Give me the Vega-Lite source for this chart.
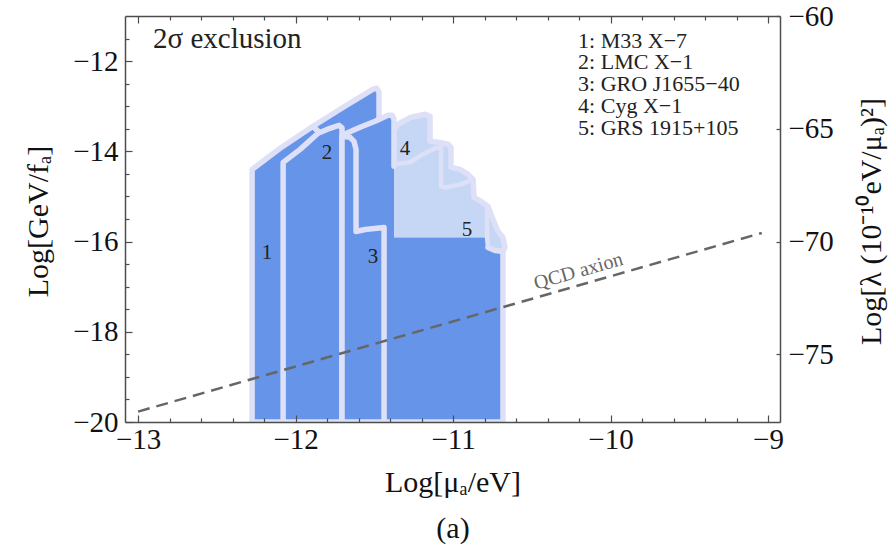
{
  "$schema": "https://vega.github.io/schema/vega-lite/v6.json",
  "width": 655,
  "height": 406,
  "autosize": {"type": "none"},
  "padding": {"left": 125, "top": 16, "right": 115, "bottom": 123},
  "background": "white",
  "config": {"view": {"stroke": null}, "font": "Liberation Serif"},
  "datasets": {
    "poly": [
      {"id": "D1", "k": 1, "x": -12.276, "y": -20},
      {"id": "D1", "k": 2, "x": -12.276, "y": -14.4},
      {"id": "D1", "k": 3, "x": -12.098, "y": -13.933},
      {"id": "D1", "k": 4, "x": -11.889, "y": -13.444},
      {"id": "D1", "k": 5, "x": -11.851, "y": -13.578},
      {"id": "D1", "k": 6, "x": -11.851, "y": -20},
      {"id": "D1", "k": 7, "x": -12.276, "y": -20},

      {"id": "D1b", "k": 1, "x": -11.889, "y": -13.444},
      {"id": "D1b", "k": 2, "x": -11.717, "y": -13.067},
      {"id": "D1b", "k": 3, "x": -11.508, "y": -12.622},
      {"id": "D1b", "k": 4, "x": -11.485, "y": -12.6},
      {"id": "D1b", "k": 5, "x": -11.47, "y": -12.689},
      {"id": "D1b", "k": 6, "x": -11.47, "y": -20},
      {"id": "D1b", "k": 7, "x": -11.851, "y": -20},
      {"id": "D1b", "k": 8, "x": -11.851, "y": -13.578},
      {"id": "D1b", "k": 9, "x": -11.889, "y": -13.444},

      {"id": "R2", "k": 1, "x": -12.079, "y": -20},
      {"id": "R2", "k": 2, "x": -12.079, "y": -14.244},
      {"id": "R2", "k": 3, "x": -11.971, "y": -13.956},
      {"id": "R2", "k": 4, "x": -11.857, "y": -13.6},
      {"id": "R2", "k": 5, "x": -11.781, "y": -13.489},
      {"id": "R2", "k": 6, "x": -11.724, "y": -13.422},
      {"id": "R2", "k": 7, "x": -11.705, "y": -13.48},
      {"id": "R2", "k": 8, "x": -11.705, "y": -20},
      {"id": "R2", "k": 9, "x": -12.079, "y": -20},

      {"id": "LF", "k": 1, "x": -11.375, "y": -15.911},
      {"id": "LF", "k": 2, "x": -11.375, "y": -13.511},
      {"id": "LF", "k": 3, "x": -11.349, "y": -13.4},
      {"id": "LF", "k": 4, "x": -11.267, "y": -13.244},
      {"id": "LF", "k": 5, "x": -11.178, "y": -13.178},
      {"id": "LF", "k": 6, "x": -11.146, "y": -13.222},
      {"id": "LF", "k": 7, "x": -11.146, "y": -13.778},
      {"id": "LF", "k": 8, "x": -11.095, "y": -13.8},
      {"id": "LF", "k": 9, "x": -11.032, "y": -13.844},
      {"id": "LF", "k": 10, "x": -11.013, "y": -13.911},
      {"id": "LF", "k": 11, "x": -11.013, "y": -14.356},
      {"id": "LF", "k": 12, "x": -10.956, "y": -14.4},
      {"id": "LF", "k": 13, "x": -10.905, "y": -14.511},
      {"id": "LF", "k": 14, "x": -10.873, "y": -14.622},
      {"id": "LF", "k": 15, "x": -10.867, "y": -15.022},
      {"id": "LF", "k": 16, "x": -10.822, "y": -15.111},
      {"id": "LF", "k": 17, "x": -10.778, "y": -15.222},
      {"id": "LF", "k": 18, "x": -10.759, "y": -15.4},
      {"id": "LF", "k": 19, "x": -10.714, "y": -15.778},
      {"id": "LF", "k": 20, "x": -10.683, "y": -15.911},
      {"id": "LF", "k": 21, "x": -10.67, "y": -16.133},
      {"id": "LF", "k": 22, "x": -10.683, "y": -16.222},
      {"id": "LF", "k": 23, "x": -10.733, "y": -16.2},
      {"id": "LF", "k": 24, "x": -10.778, "y": -16.133},
      {"id": "LF", "k": 25, "x": -10.784, "y": -15.911},
      {"id": "LF", "k": 26, "x": -11.375, "y": -15.911},

      {"id": "LO", "k": 1, "x": -11.375, "y": -13.511},
      {"id": "LO", "k": 2, "x": -11.349, "y": -13.4},
      {"id": "LO", "k": 3, "x": -11.267, "y": -13.244},
      {"id": "LO", "k": 4, "x": -11.178, "y": -13.178},
      {"id": "LO", "k": 5, "x": -11.146, "y": -13.222},
      {"id": "LO", "k": 6, "x": -11.146, "y": -13.778},
      {"id": "LO", "k": 7, "x": -11.095, "y": -13.8},
      {"id": "LO", "k": 8, "x": -11.032, "y": -13.844},
      {"id": "LO", "k": 9, "x": -11.013, "y": -13.911},
      {"id": "LO", "k": 10, "x": -11.013, "y": -14.356},
      {"id": "LO", "k": 11, "x": -10.956, "y": -14.4},
      {"id": "LO", "k": 12, "x": -10.905, "y": -14.511},
      {"id": "LO", "k": 13, "x": -10.873, "y": -14.622},
      {"id": "LO", "k": 14, "x": -10.867, "y": -15.022},
      {"id": "LO", "k": 15, "x": -10.822, "y": -15.111},
      {"id": "LO", "k": 16, "x": -10.778, "y": -15.222},
      {"id": "LO", "k": 17, "x": -10.759, "y": -15.4},
      {"id": "LO", "k": 18, "x": -10.714, "y": -15.778},
      {"id": "LO", "k": 19, "x": -10.683, "y": -15.911},
      {"id": "LO", "k": 20, "x": -10.67, "y": -16.133},
      {"id": "LO", "k": 21, "x": -10.683, "y": -16.222},

      {"id": "BF", "k": 1, "x": -11.705, "y": -20},
      {"id": "BF", "k": 2, "x": -11.705, "y": -13.644},
      {"id": "BF", "k": 3, "x": -11.59, "y": -13.467},
      {"id": "BF", "k": 4, "x": -11.495, "y": -13.333},
      {"id": "BF", "k": 5, "x": -11.413, "y": -13.2},
      {"id": "BF", "k": 6, "x": -11.387, "y": -13.2},
      {"id": "BF", "k": 7, "x": -11.375, "y": -13.289},
      {"id": "BF", "k": 8, "x": -11.375, "y": -15.911},
      {"id": "BF", "k": 9, "x": -10.784, "y": -15.911},
      {"id": "BF", "k": 10, "x": -10.778, "y": -16.133},
      {"id": "BF", "k": 11, "x": -10.733, "y": -16.2},
      {"id": "BF", "k": 12, "x": -10.683, "y": -16.222},
      {"id": "BF", "k": 13, "x": -10.683, "y": -20},
      {"id": "BF", "k": 14, "x": -11.705, "y": -20},

      {"id": "BL", "k": 1, "x": -11.375, "y": -14.333},
      {"id": "BL", "k": 2, "x": -11.375, "y": -13.289},
      {"id": "BL", "k": 3, "x": -11.387, "y": -13.2},
      {"id": "BL", "k": 4, "x": -11.413, "y": -13.2},
      {"id": "BL", "k": 5, "x": -11.495, "y": -13.333},
      {"id": "BL", "k": 6, "x": -11.59, "y": -13.467},
      {"id": "BL", "k": 7, "x": -11.705, "y": -13.644},
      {"id": "BL", "k": 8, "x": -11.705, "y": -20},
      {"id": "BL", "k": 9, "x": -10.683, "y": -20},
      {"id": "BL", "k": 10, "x": -10.683, "y": -16.222},
      {"id": "BL", "k": 11, "x": -10.733, "y": -16.2},
      {"id": "BL", "k": 12, "x": -10.778, "y": -16.133},

      {"id": "R3", "k": 1, "x": -11.705, "y": -20},
      {"id": "R3", "k": 2, "x": -11.705, "y": -13.667},
      {"id": "R3", "k": 3, "x": -11.654, "y": -13.689},
      {"id": "R3", "k": 4, "x": -11.629, "y": -13.778},
      {"id": "R3", "k": 5, "x": -11.616, "y": -13.956},
      {"id": "R3", "k": 6, "x": -11.616, "y": -15.778},
      {"id": "R3", "k": 7, "x": -11.559, "y": -15.733},
      {"id": "R3", "k": 8, "x": -11.438, "y": -15.689},
      {"id": "R3", "k": 9, "x": -11.438, "y": -20},
      {"id": "R3", "k": 10, "x": -11.705, "y": -20},

      {"id": "LI", "k": 1, "x": -11.375, "y": -14.289},
      {"id": "LI", "k": 2, "x": -11.273, "y": -14.244},
      {"id": "LI", "k": 3, "x": -11.203, "y": -14.089},
      {"id": "LI", "k": 4, "x": -11.114, "y": -13.933},
      {"id": "LI", "k": 5, "x": -11.076, "y": -13.911},
      {"id": "LI", "k": 6, "x": -11.076, "y": -14.778},
      {"id": "LI", "k": 7, "x": -11.051, "y": -14.8},
      {"id": "LI", "k": 8, "x": -10.949, "y": -14.733},
      {"id": "LI", "k": 9, "x": -10.873, "y": -14.622},

      {"id": "L5", "k": 1, "x": -10.784, "y": -15.222},
      {"id": "L5", "k": 2, "x": -10.784, "y": -15.911},
      {"id": "L5", "k": 3, "x": -10.778, "y": -16.133}
    ],
    "qcd": [
      {"k": 1, "x": -13, "y": -19.77},
      {"k": 2, "x": -9.04, "y": -15.81}
    ],
    "rlab": [
      {"t": "1", "x": -12.181, "y": -16.244},
      {"t": "2", "x": -11.8, "y": -14.044},
      {"t": "3", "x": -11.508, "y": -16.333},
      {"t": "4", "x": -11.305, "y": -13.956},
      {"t": "5", "x": -10.911, "y": -15.733}
    ],
    "legend": [
      {"t": "1: M33 X−7\n2: LMC X−1\n3: GRO J1655−40\n4: Cyg X−1\n5: GRS 1915+105", "x": -10.206, "y": -11.549}
    ],
    "notes": [
      {"t": "2σ exclusion", "x": -12.905, "y": -11.51}
    ],
    "qlab": [
      {"t": "QCD axion", "x": -10.204, "y": -16.66}
    ]
  },
  "layer": [
    {
      "data": {"name": "poly"},
      "transform": [{"filter": "datum.id === 'D1'"}],
      "mark": {"type": "line", "fill": "#6594E9", "stroke": "#DDE0F7", "strokeWidth": 5.5, "strokeJoin": "round", "clip": true},
      "encoding": {
        "x": {"field": "x", "type": "quantitative", "scale": {"domain": [-13.083, -8.924], "nice": false, "zero": false}, "axis": null},
        "y": {"field": "y", "type": "quantitative", "scale": {"domain": [-20, -11], "nice": false, "zero": false}, "axis": null},
        "order": {"field": "k", "type": "quantitative"}
      }
    },
    {
      "data": {"name": "poly"},
      "transform": [{"filter": "datum.id === 'D1b'"}],
      "mark": {"type": "line", "fill": "#6594E9", "stroke": "#DDE0F7", "strokeWidth": 5.5, "strokeJoin": "round", "clip": true},
      "encoding": {
        "x": {"field": "x", "type": "quantitative", "scale": {"domain": [-13.083, -8.924], "nice": false, "zero": false}, "axis": null},
        "y": {"field": "y", "type": "quantitative", "scale": {"domain": [-20, -11], "nice": false, "zero": false}, "axis": null},
        "order": {"field": "k", "type": "quantitative"}
      }
    },
    {
      "data": {"name": "poly"},
      "transform": [{"filter": "datum.id === 'R2'"}],
      "mark": {"type": "line", "fill": "#6594E9", "stroke": "#DDE0F7", "strokeWidth": 5.5, "strokeJoin": "round", "clip": true},
      "encoding": {
        "x": {"field": "x", "type": "quantitative", "scale": {"domain": [-13.083, -8.924], "nice": false, "zero": false}, "axis": null},
        "y": {"field": "y", "type": "quantitative", "scale": {"domain": [-20, -11], "nice": false, "zero": false}, "axis": null},
        "order": {"field": "k", "type": "quantitative"}
      }
    },
    {
      "data": {"name": "poly"},
      "transform": [{"filter": "datum.id === 'LF'"}],
      "mark": {"type": "line", "fill": "#C6D7F5", "stroke": "#C6D7F5", "strokeWidth": 0, "strokeOpacity": 0, "clip": true},
      "encoding": {
        "x": {"field": "x", "type": "quantitative", "scale": {"domain": [-13.083, -8.924], "nice": false, "zero": false}, "axis": null},
        "y": {"field": "y", "type": "quantitative", "scale": {"domain": [-20, -11], "nice": false, "zero": false}, "axis": null},
        "order": {"field": "k", "type": "quantitative"}
      }
    },
    {
      "data": {"name": "poly"},
      "transform": [{"filter": "datum.id === 'LO'"}],
      "mark": {"type": "line", "stroke": "#DDE0F7", "strokeWidth": 5.5, "strokeJoin": "round", "strokeCap": "round", "clip": true},
      "encoding": {
        "x": {"field": "x", "type": "quantitative", "scale": {"domain": [-13.083, -8.924], "nice": false, "zero": false}, "axis": null},
        "y": {"field": "y", "type": "quantitative", "scale": {"domain": [-20, -11], "nice": false, "zero": false}, "axis": null},
        "order": {"field": "k", "type": "quantitative"}
      }
    },
    {
      "data": {"name": "poly"},
      "transform": [{"filter": "datum.id === 'BF'"}],
      "mark": {"type": "line", "fill": "#6594E9", "stroke": "#6594E9", "strokeWidth": 0, "strokeOpacity": 0, "clip": true},
      "encoding": {
        "x": {"field": "x", "type": "quantitative", "scale": {"domain": [-13.083, -8.924], "nice": false, "zero": false}, "axis": null},
        "y": {"field": "y", "type": "quantitative", "scale": {"domain": [-20, -11], "nice": false, "zero": false}, "axis": null},
        "order": {"field": "k", "type": "quantitative"}
      }
    },
    {
      "data": {"name": "poly"},
      "transform": [{"filter": "datum.id === 'BL'"}],
      "mark": {"type": "line", "stroke": "#DDE0F7", "strokeWidth": 5.5, "strokeJoin": "round", "strokeCap": "round", "clip": true},
      "encoding": {
        "x": {"field": "x", "type": "quantitative", "scale": {"domain": [-13.083, -8.924], "nice": false, "zero": false}, "axis": null},
        "y": {"field": "y", "type": "quantitative", "scale": {"domain": [-20, -11], "nice": false, "zero": false}, "axis": null},
        "order": {"field": "k", "type": "quantitative"}
      }
    },
    {
      "data": {"name": "poly"},
      "transform": [{"filter": "datum.id === 'R3'"}],
      "mark": {"type": "line", "fill": "#6594E9", "stroke": "#DDE0F7", "strokeWidth": 5.5, "strokeJoin": "round", "clip": true},
      "encoding": {
        "x": {"field": "x", "type": "quantitative", "scale": {"domain": [-13.083, -8.924], "nice": false, "zero": false}, "axis": null},
        "y": {"field": "y", "type": "quantitative", "scale": {"domain": [-20, -11], "nice": false, "zero": false}, "axis": null},
        "order": {"field": "k", "type": "quantitative"}
      }
    },
    {
      "data": {"name": "poly"},
      "transform": [{"filter": "datum.id === 'LI' || datum.id === 'L5'"}],
      "mark": {"type": "line", "stroke": "#DDE0F7", "strokeWidth": 4.5, "strokeJoin": "round", "strokeCap": "round", "clip": true},
      "encoding": {
        "x": {"field": "x", "type": "quantitative", "scale": {"domain": [-13.083, -8.924], "nice": false, "zero": false}, "axis": null},
        "y": {"field": "y", "type": "quantitative", "scale": {"domain": [-20, -11], "nice": false, "zero": false}, "axis": null},
        "detail": {"field": "id"},
        "order": {"field": "k", "type": "quantitative"}
      }
    },
    {
      "data": {"name": "qcd"},
      "mark": {"type": "line", "stroke": "#666666", "strokeWidth": 2.5, "strokeDash": [12, 7]},
      "encoding": {
        "x": {"field": "x", "type": "quantitative", "scale": {"domain": [-13.083, -8.924], "nice": false, "zero": false}, "axis": null},
        "y": {"field": "y", "type": "quantitative", "scale": {"domain": [-20, -11], "nice": false, "zero": false}, "axis": null},
        "order": {"field": "k", "type": "quantitative"}
      }
    },
    {
      "data": {"name": "rlab"},
      "mark": {"type": "text", "font": "Liberation Serif", "fontSize": 21, "color": "#222222", "align": "center", "baseline": "middle"},
      "encoding": {
        "x": {"field": "x", "type": "quantitative", "scale": {"domain": [-13.083, -8.924], "nice": false, "zero": false}, "axis": null},
        "y": {"field": "y", "type": "quantitative", "scale": {"domain": [-20, -11], "nice": false, "zero": false}, "axis": null},
        "text": {"field": "t"}
      }
    },
    {
      "data": {"name": "legend"},
      "mark": {"type": "text", "font": "Liberation Serif", "fontSize": 22, "color": "#222222", "align": "left", "baseline": "middle", "lineBreak": "\n", "lineHeight": 21.7},
      "encoding": {
        "x": {"field": "x", "type": "quantitative", "scale": {"domain": [-13.083, -8.924], "nice": false, "zero": false}, "axis": null},
        "y": {"field": "y", "type": "quantitative", "scale": {"domain": [-20, -11], "nice": false, "zero": false}, "axis": null},
        "text": {"field": "t"}
      }
    },
    {
      "data": {"name": "notes"},
      "mark": {"type": "text", "font": "Liberation Serif", "fontSize": 29, "color": "#222222", "align": "left", "baseline": "middle"},
      "encoding": {
        "x": {"field": "x", "type": "quantitative", "scale": {"domain": [-13.083, -8.924], "nice": false, "zero": false}, "axis": null},
        "y": {"field": "y", "type": "quantitative", "scale": {"domain": [-20, -11], "nice": false, "zero": false}, "axis": null},
        "text": {"field": "t"}
      }
    },
    {
      "data": {"name": "qlab"},
      "mark": {"type": "text", "font": "Liberation Serif", "fontSize": 20, "color": "#666666", "align": "center", "baseline": "middle", "angle": 344},
      "encoding": {
        "x": {"field": "x", "type": "quantitative", "scale": {"domain": [-13.083, -8.924], "nice": false, "zero": false}, "axis": null},
        "y": {"field": "y", "type": "quantitative", "scale": {"domain": [-20, -11], "nice": false, "zero": false}, "axis": null},
        "text": {"field": "t"}
      }
    },
    {
      "data": {"values": [{"x": -11, "y": -15}]},
      "mark": {"type": "point", "opacity": 0},
      "encoding": {
        "x": {
          "field": "x", "type": "quantitative",
          "scale": {"domain": [-13.083, -8.924], "nice": false, "zero": false},
          "axis": {
            "orient": "bottom", "offset": -4,
            "values": [-12.8, -12.6, -12.4, -12.2, -11.8, -11.6, -11.4, -11.2, -10.8, -10.6, -10.4, -10.2, -9.8, -9.6, -9.4, -9.2],
            "labels": false, "domain": false, "title": null, "grid": false,
            "tickSize": 4, "tickColor": "#4d4d4d", "tickWidth": 1.2, "zindex": 1
          }
        },
        "y": {
          "field": "y", "type": "quantitative",
          "scale": {"domain": [-20, -11], "nice": false, "zero": false},
          "axis": {
            "orient": "left", "offset": -4,
            "values": [-19.5, -19, -18.5, -17.5, -17, -16.5, -15.5, -15, -14.5, -13.5, -13, -12.5, -11.5],
            "labels": false, "domain": false, "title": null, "grid": false,
            "tickSize": 4, "tickColor": "#4d4d4d", "tickWidth": 1.2, "zindex": 1
          }
        }
      }
    },
    {
      "data": {"values": [{"x": -11, "lam": -70}]},
      "mark": {"type": "point", "opacity": 0},
      "encoding": {
        "x": {
          "field": "x", "type": "quantitative",
          "scale": {"domain": [-13.083, -8.924], "nice": false, "zero": false},
          "axis": {
            "orient": "top", "offset": -4,
            "values": [-12.8, -12.6, -12.4, -12.2, -11.8, -11.6, -11.4, -11.2, -10.8, -10.6, -10.4, -10.2, -9.8, -9.6, -9.4, -9.2],
            "labels": false, "domain": false, "title": null, "grid": false,
            "tickSize": 4, "tickColor": "#4d4d4d", "tickWidth": 1.2, "zindex": 1
          }
        },
        "y": {
          "field": "lam", "type": "quantitative",
          "scale": {"domain": [-78, -60], "nice": false, "zero": false},
          "axis": {
            "orient": "right", "offset": -4,
            "values": [-75, -70, -65, -60],
            "labels": false, "domain": false, "title": null, "grid": false,
            "tickSize": 4, "tickColor": "#4d4d4d", "tickWidth": 1.2, "zindex": 1
          }
        }
      }
    },
    {
      "data": {"values": [{"x": -11, "y": -15}]},
      "mark": {"type": "point", "opacity": 0},
      "encoding": {
        "x": {
          "field": "x", "type": "quantitative",
          "scale": {"domain": [-13.083, -8.924], "nice": false, "zero": false},
          "axis": {
            "orient": "bottom", "offset": -7,
            "values": [-13, -12, -11, -10, -9],
            "labels": false, "domain": false, "title": null, "grid": false,
            "tickSize": 7, "tickColor": "#4d4d4d", "tickWidth": 1.2, "zindex": 1
          }
        },
        "y": {
          "field": "y", "type": "quantitative",
          "scale": {"domain": [-20, -11], "nice": false, "zero": false},
          "axis": {
            "orient": "left", "offset": -7,
            "values": [-20, -18, -16, -14, -12],
            "labels": false, "domain": false, "title": null, "grid": false,
            "tickSize": 7, "tickColor": "#4d4d4d", "tickWidth": 1.2, "zindex": 1
          }
        }
      }
    },
    {
      "data": {"values": [{"x": -11, "y": -15}]},
      "mark": {"type": "point", "opacity": 0},
      "encoding": {
        "x": {
          "field": "x", "type": "quantitative",
          "scale": {"domain": [-13.083, -8.924], "nice": false, "zero": false},
          "axis": {
            "orient": "top", "offset": -7,
            "values": [-13, -12, -11, -10, -9],
            "labels": false, "domain": false, "title": null, "grid": false,
            "tickSize": 7, "tickColor": "#4d4d4d", "tickWidth": 1.2, "zindex": 1
          }
        }
      }
    },
    {
      "data": {"values": [{"x": -11, "y": -15}]},
      "mark": {"type": "point", "opacity": 0},
      "encoding": {
        "x": {
          "field": "x", "type": "quantitative",
          "scale": {"domain": [-13.083, -8.924], "nice": false, "zero": false},
          "axis": {
            "orient": "bottom",
            "values": [-13, -12, -11, -10, -9],
            "format": "d",
            "ticks": false, "tickSize": 0,
            "domainColor": "#4d4d4d", "domainWidth": 1.5,
            "grid": false, "zindex": 1,
            "labelFont": "Liberation Serif", "labelFontSize": 29, "labelColor": "#111111",
            "labelPadding": 3, "labelFlush": false, "labelOverlap": false, "labelBaseline": "top",
            "title": ["Log[μₐ/eV]", "(a)"],
            "titleFont": "Liberation Serif", "titleFontSize": 30, "titleFontWeight": "normal", "titleColor": "#111111",
            "titleX": 327.5, "titleY": 69, "titleAlign": "center", "titleBaseline": "alphabetic", "titleLineHeight": 46
          }
        },
        "y": {
          "field": "y", "type": "quantitative",
          "scale": {"domain": [-20, -11], "nice": false, "zero": false},
          "axis": {
            "orient": "left",
            "values": [-20, -18, -16, -14, -12],
            "format": "d",
            "ticks": false, "tickSize": 0,
            "domainColor": "#4d4d4d", "domainWidth": 1.5,
            "grid": false, "zindex": 1,
            "labelFont": "Liberation Serif", "labelFontSize": 29, "labelColor": "#111111",
            "labelPadding": 7, "labelFlush": false, "labelOverlap": false,
            "title": "Log[GeV/fₐ]",
            "titleFont": "Liberation Serif", "titleFontSize": 30, "titleFontWeight": "normal", "titleColor": "#111111",
            "titleAngle": 270, "titleX": -78, "titleY": 205, "titleAlign": "center", "titleBaseline": "alphabetic"
          }
        }
      }
    },
    {
      "data": {"values": [{"x": -11, "lam": -70}]},
      "mark": {"type": "point", "opacity": 0},
      "encoding": {
        "x": {
          "field": "x", "type": "quantitative",
          "scale": {"domain": [-13.083, -8.924], "nice": false, "zero": false},
          "axis": {
            "orient": "top", "values": [-13, -12, -11, -10, -9],
            "labels": false, "ticks": false, "tickSize": 0, "title": null, "grid": false,
            "domainColor": "#4d4d4d", "domainWidth": 1.5, "zindex": 1
          }
        },
        "y": {
          "field": "lam", "type": "quantitative",
          "scale": {"domain": [-78, -60], "nice": false, "zero": false},
          "axis": {
            "orient": "right",
            "values": [-75, -70, -65, -60],
            "format": "d",
            "ticks": false, "tickSize": 0,
            "domainColor": "#4d4d4d", "domainWidth": 1.5,
            "grid": false, "zindex": 1,
            "labelFont": "Liberation Serif", "labelFontSize": 29, "labelColor": "#111111",
            "labelPadding": 8, "labelFlush": false, "labelOverlap": false,
            "title": "Log[λ (10⁻¹⁰eV/μₐ)²]",
            "titleFont": "Liberation Serif", "titleFontSize": 30, "titleFontWeight": "normal", "titleColor": "#111111",
            "titleAngle": 270, "titleX": 100, "titleY": 205, "titleAlign": "center", "titleBaseline": "alphabetic"
          }
        }
      }
    }
  ],
  "resolve": {
    "scale": {"x": "independent", "y": "independent"},
    "axis": {"x": "independent", "y": "independent"}
  }
}
